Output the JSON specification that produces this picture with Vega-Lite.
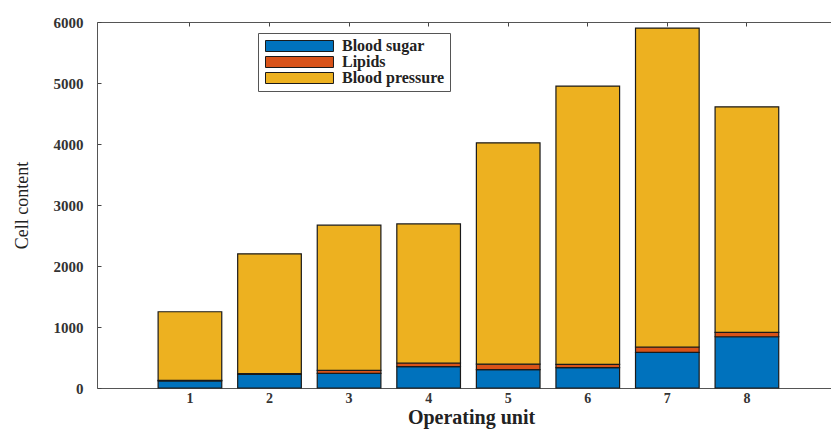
{
  "$schema": "https://vega.github.io/schema/vega-lite/v6.json",
  "autosize": {"type": "none"},
  "padding": {"left": 97, "top": 22, "right": 0, "bottom": 42},
  "width": 734,
  "height": 366,
  "background": "white",
  "config": {
    "view": {"stroke": null},
    "font": "Liberation Serif"
  },
  "data": {
    "values": [
      {"unit": "1", "type": "Blood sugar", "k": 1, "value": 115},
      {"unit": "1", "type": "Lipids", "k": 2, "value": 10},
      {"unit": "1", "type": "Blood pressure", "k": 3, "value": 1125},
      {"unit": "2", "type": "Blood sugar", "k": 1, "value": 225},
      {"unit": "2", "type": "Lipids", "k": 2, "value": 10},
      {"unit": "2", "type": "Blood pressure", "k": 3, "value": 1965},
      {"unit": "3", "type": "Blood sugar", "k": 1, "value": 240},
      {"unit": "3", "type": "Lipids", "k": 2, "value": 50},
      {"unit": "3", "type": "Blood pressure", "k": 3, "value": 2380},
      {"unit": "4", "type": "Blood sugar", "k": 1, "value": 350},
      {"unit": "4", "type": "Lipids", "k": 2, "value": 60},
      {"unit": "4", "type": "Blood pressure", "k": 3, "value": 2280},
      {"unit": "5", "type": "Blood sugar", "k": 1, "value": 300},
      {"unit": "5", "type": "Lipids", "k": 2, "value": 90},
      {"unit": "5", "type": "Blood pressure", "k": 3, "value": 3630},
      {"unit": "6", "type": "Blood sugar", "k": 1, "value": 333},
      {"unit": "6", "type": "Lipids", "k": 2, "value": 55},
      {"unit": "6", "type": "Blood pressure", "k": 3, "value": 4562},
      {"unit": "7", "type": "Blood sugar", "k": 1, "value": 585},
      {"unit": "7", "type": "Lipids", "k": 2, "value": 87},
      {"unit": "7", "type": "Blood pressure", "k": 3, "value": 5228},
      {"unit": "8", "type": "Blood sugar", "k": 1, "value": 840},
      {"unit": "8", "type": "Lipids", "k": 2, "value": 73},
      {"unit": "8", "type": "Blood pressure", "k": 3, "value": 3697}
    ]
  },
  "resolve": {"axis": {"x": "independent", "y": "independent"}},
  "layer": [
    {
      "mark": {"type": "bar", "stroke": "#1a1a1a", "strokeWidth": 1.2},
      "encoding": {
        "x": {
          "field": "unit",
          "type": "ordinal",
          "scale": {"paddingInner": 0.2, "paddingOuter": 0.7125, "align": 0.539},
          "axis": {
            "title": "Operating unit",
            "titleFont": "Liberation Serif",
            "titleFontSize": 20,
            "titleFontWeight": "bold",
            "titleColor": "#222",
            "titlePadding": 2,
            "titleX": 374,
            "labelAngle": 0,
            "labelFont": "Liberation Serif",
            "labelFontSize": 14,
            "labelFontWeight": "bold",
            "labelColor": "#333",
            "labelPadding": 7,
            "tickSize": -4,
            "tickColor": "#444",
            "domainColor": "#555",
            "grid": false
          }
        },
        "y": {
          "field": "value",
          "type": "quantitative",
          "aggregate": "sum",
          "stack": "zero",
          "scale": {"domain": [0, 6000], "nice": false},
          "axis": {
            "title": "Cell content",
            "titleFont": "Liberation Serif",
            "titleFontSize": 18,
            "titleFontWeight": "normal",
            "titleColor": "#222",
            "titlePadding": 22,
            "values": [0, 1000, 2000, 3000, 4000, 5000, 6000],
            "format": "d",
            "labelFont": "Liberation Serif",
            "labelFontSize": 15,
            "labelFontWeight": "bold",
            "labelColor": "#333",
            "labelPadding": 18,
            "tickSize": -4,
            "tickColor": "#444",
            "domainColor": "#555",
            "grid": false
          }
        },
        "order": {"field": "k", "type": "quantitative"},
        "color": {
          "field": "type",
          "type": "nominal",
          "sort": ["Blood sugar", "Lipids", "Blood pressure"],
          "scale": {
            "domain": ["Blood sugar", "Lipids", "Blood pressure"],
            "range": ["#0072BD", "#D95319", "#EDB120"]
          },
          "legend": {
            "title": null,
            "orient": "none",
            "legendX": 161,
            "legendY": 11,
            "symbolType": "M-1,-1H11.36V1H-1Z",
            "symbolSize": 121,
            "symbolStrokeColor": "#1a1a1a",
            "symbolStrokeWidth": 1,
            "labelFont": "Liberation Serif",
            "labelFontSize": 16,
            "labelFontWeight": "bold",
            "labelColor": "#222",
            "labelOffset": 63,
            "rowPadding": -1,
            "padding": 5,
            "strokeColor": "#555",
            "fillColor": "white"
          }
        }
      }
    },
    {
      "mark": {"type": "bar", "opacity": 0},
      "encoding": {
        "x": {
          "field": "unit",
          "type": "ordinal",
          "axis": {
            "orient": "top",
            "title": null,
            "labels": false,
            "tickSize": -4,
            "tickColor": "#444",
            "domainColor": "#555",
            "grid": false
          }
        },
        "y": {
          "field": "value",
          "type": "quantitative",
          "aggregate": "sum",
          "axis": null
        }
      }
    }
  ]
}
